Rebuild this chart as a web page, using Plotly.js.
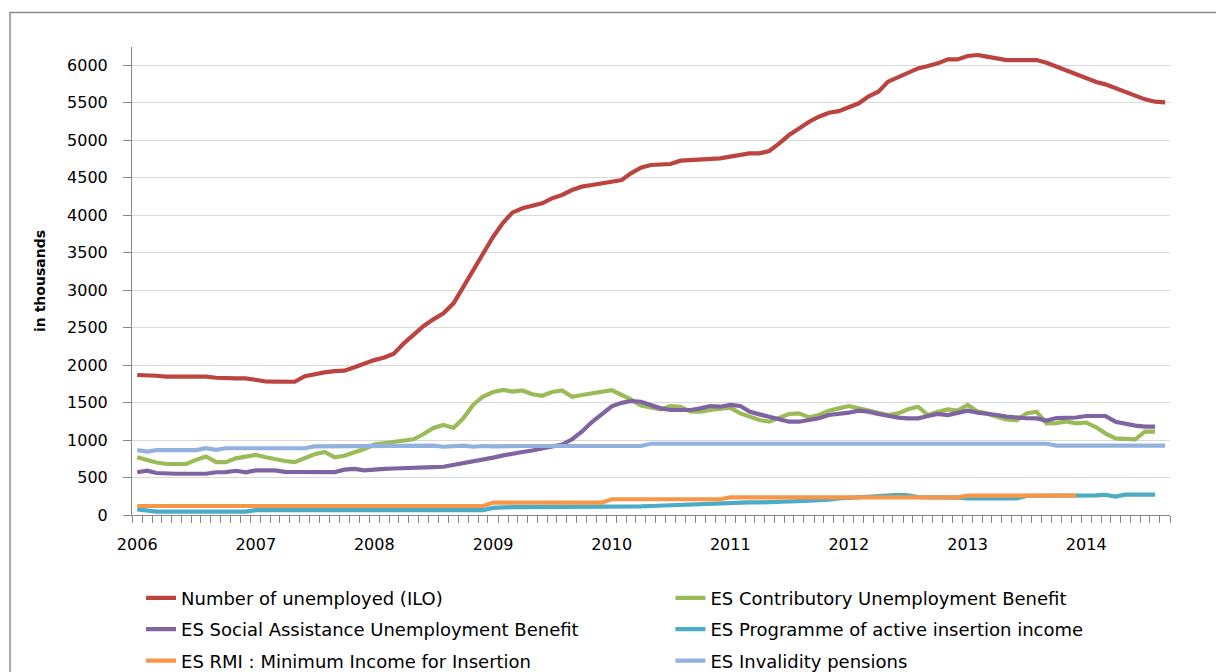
<!DOCTYPE html>
<html>
<head>
<meta charset="utf-8">
<script src="https://cdn.plot.ly/plotly-3.0.1.min.js"></script>
<style>html,body{margin:0;padding:0;background:#fff;}#chart{width:1216px;height:672px;}</style>
</head>
<body>
<div id="chart"></div>
<script>
// Monthly categories Jan 2006 .. Sep 2014
const months = [];
for (let y = 2006; y <= 2014; y++) {
  for (let m = 1; m <= 12; m++) {
    if (y === 2014 && m > 9) break;
    months.push(y + '-' + String(m).padStart(2, '0') + '-01');
  }
}
const yearTicks = ['2006-01-01','2007-01-01','2008-01-01','2009-01-01','2010-01-01','2011-01-01','2012-01-01','2013-01-01','2014-01-01'];
const yearLabels = ['2006','2007','2008','2009','2010','2011','2012','2013','2014'];

const unemployedILO = [
  1867,1867,1857,1845,1845,1845,1845,1844,1830,1822,1822,1822,
  1800,1780,1778,1778,1777,1850,1880,1902,1918,1924,1970,2022,
  2065,2100,2150,2289,2400,2520,2609,2689,2822,3044,3267,3489,
  3711,3898,4031,4089,4120,4156,4222,4267,4333,4378,4400,4425,
  4445,4467,4555,4631,4667,4680,4680,4724,4733,4751,4755,4755,
  4778,4800,4822,4822,4853,4955,5066,5155,5244,5311,5364,5385,
  5440,5489,5578,5644,5778,5835,5897,5955,5986,6022,6075,6075,
  6120,6133,6111,6089,6066,6066,6066,6066,6031,5980,5928,5870,
  5815,5773,5742,5688,5635,5586,5542,5511,5502
];
const contributoryBenefit = [
  770,735,700,680,680,680,735,780,705,705,755,780,
  800,770,745,720,705,765,810,840,770,790,835,880,
  940,955,970,990,1010,1080,1160,1200,1160,1290,1470,1580,
  1640,1667,1645,1660,1610,1590,1640,1660,1575,1600,1625,1650,
  1665,1600,1542,1460,1430,1409,1453,1444,1378,1378,1400,1422,
  1431,1355,1311,1267,1244,1289,1347,1355,1302,1333,1391,1422,
  1453,1422,1391,1355,1333,1355,1409,1444,1333,1378,1409,1391,
  1467,1378,1355,1311,1275,1262,1355,1378,1222,1226,1248,1222,
  1233,1169,1089,1022,1009,1009,1111,1111
];
const socialAssistanceBenefit = [
  570,590,560,550,550,550,550,550,570,572,590,570,
  595,595,595,575,573,573,573,573,573,605,614,595,
  610,615,620,628,632,635,638,643,665,695,715,735,
  765,795,820,840,860,885,910,940,1010,1110,1240,1350,
  1450,1495,1520,1510,1467,1422,1400,1400,1400,1422,1453,1444,
  1467,1453,1378,1342,1311,1275,1244,1244,1267,1289,1333,1347,
  1364,1391,1378,1347,1320,1298,1289,1289,1320,1347,1333,1364,
  1391,1364,1355,1333,1311,1298,1290,1289,1258,1293,1296,1300,
  1320,1320,1320,1244,1213,1191,1178,1178
];
const activeInsertionIncome = [
  75,60,45,45,45,45,45,45,45,45,45,45,
  65,65,65,65,65,65,65,65,65,65,65,65,
  65,65,65,65,65,65,65,65,65,65,65,65,
  95,105,105,105,105,105,105,105,110,110,110,112,
  115,115,115,115,120,125,133,140,148,155,158,160,
  163,168,168,168,168,175,180,185,190,195,205,220,
  230,232,236,250,265,268,262,240,236,236,236,232,
  222,222,222,222,222,222,255,255,255,255,255,255,
  258,262,270,245,272,272,272,272
];
const minimumIncomeRMI = [
  120,120,120,120,120,120,120,120,120,120,120,120,
  120,120,120,120,120,120,120,120,120,120,120,120,
  120,120,120,120,120,120,120,120,120,120,120,120,
  165,165,165,165,165,165,165,165,165,165,165,165,
  210,210,210,210,210,210,210,210,210,210,210,210,
  236,236,236,236,236,236,236,236,236,236,236,236,
  236,236,236,236,236,236,236,236,236,236,236,236,
  258,258,258,258,258,258,258,258,258,258,258,258
];
const invalidityPensions = [
  865,845,865,865,865,865,865,890,868,890,890,890,
  890,890,890,890,890,890,915,915,915,915,915,915,
  915,915,915,915,915,915,925,910,915,925,910,920,
  915,920,920,920,920,920,920,920,920,920,920,920,
  920,920,920,920,950,950,950,950,950,950,950,950,
  950,950,950,950,950,950,950,950,950,950,950,950,
  950,950,950,950,950,950,950,950,950,950,950,950,
  950,950,950,950,950,950,950,950,950,925,925,925,
  925,925,925,925,925,925,925,925,925
];

const seriesNames = [
  'Number of unemployed (ILO)',
  'ES Contributory Unemployment Benefit',
  'ES Social Assistance Unemployment Benefit',
  'ES Programme of active insertion income',
  'ES RMI : Minimum Income for Insertion',
  'ES Invalidity pensions'
];
const seriesData = [unemployedILO, contributoryBenefit, socialAssistanceBenefit, activeInsertionIncome, minimumIncomeRMI, invalidityPensions];
const seriesColors = ['#bb4440', '#9bbb59', '#8064a2', '#4bacc6', '#f79646', '#93b1de'];
const seriesLegend = ['legend', 'legend2', 'legend', 'legend2', 'legend', 'legend2'];

const traces = seriesData.map((vals, k) => ({
  type: 'scatter',
  mode: 'lines',
  name: seriesNames[k],
  x: months.slice(0, vals.length),
  y: vals,
  line: {color: seriesColors[k], width: 4.2},
  legend: seriesLegend[k],
  legendgroup: 'g' + k,
  hoverinfo: 'x+y+name'
}));

const fontFam = 'DejaVu Sans, Verdana, sans-serif';
const legendCommon = {
  orientation: 'v', xanchor: 'left', yanchor: 'top', y: -0.138,
  font: {family: fontFam, size: 18, color: '#000'},
  tracegroupgap: 5, bgcolor: 'rgba(0,0,0,0)', borderwidth: 0
};

const layout = {
  width: 1216, height: 672,
  margin: {l: 132, r: 46, t: 47, b: 157, autoexpand: false},
  paper_bgcolor: '#fff', plot_bgcolor: '#fff',
  showlegend: true,
  font: {family: fontFam, color: '#000'},
  xaxis: {
    type: 'date',
    range: ['2005-12-16', '2014-09-16'],
    tickmode: 'array', tickvals: yearTicks, ticktext: yearLabels,
    ticks: '', showgrid: false, zeroline: false,
    showline: true, linecolor: '#868686', linewidth: 1,
    tickfont: {family: fontFam, size: 16, color: '#000'},
    ticklabelstandoff: 15,
    minor: {dtick: 'M1', tick0: '2005-12-16', ticks: 'outside', ticklen: 7, tickcolor: '#868686', tickwidth: 1, showgrid: false}
  },
  yaxis: {
    range: [0, 6240], tickmode: 'linear', tick0: 0, dtick: 500,
    ticks: 'outside', ticklen: 8, tickcolor: '#868686',
    showline: true, linecolor: '#868686', linewidth: 1,
    showgrid: true, gridcolor: '#d9d9d9', gridwidth: 1, zeroline: false,
    tickfont: {family: fontFam, size: 16, color: '#000'},
    ticklabelstandoff: 12,
    title: {text: 'in thousands', font: {family: fontFam, size: 14, color: '#000', weight: 'bold'}, standoff: 18}
  },
  legend: Object.assign({x: 0.0087}, legendCommon),
  legend2: Object.assign({x: 0.5187}, legendCommon),
  shapes: [{
    type: 'rect', xref: 'paper', yref: 'paper',
    x0: -0.1175, x1: 1.1, y0: -0.5, y1: 1.0737,
    line: {color: '#8c8c8c', width: 1.5}, fillcolor: 'rgba(0,0,0,0)', layer: 'below'
  }]
};

Plotly.newPlot('chart', traces, layout, {displayModeBar: false, staticPlot: true});
</script>
</body>
</html>
